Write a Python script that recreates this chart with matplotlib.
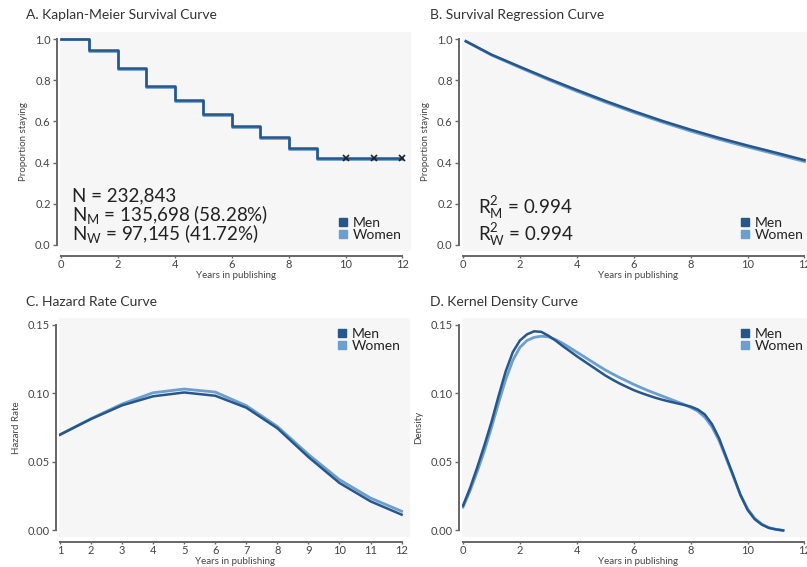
import numpy as np
import matplotlib
matplotlib.use("Agg")
import matplotlib.pyplot as plt
from matplotlib.lines import Line2D

plt.rcParams['font.family'] = ['Lato', 'DejaVu Sans']
plt.rcParams['mathtext.fontset'] = 'custom'
plt.rcParams['mathtext.rm'] = 'Lato'
plt.rcParams['mathtext.it'] = 'Lato'
plt.rcParams['mathtext.default'] = 'regular'

# A. Kaplan-Meier (step values at start of each year)
km_years = [0, 1, 2, 3, 4, 5, 6, 7, 8, 9, 10, 11, 12]
km_men = [1.0, 0.947, 0.860, 0.773, 0.704, 0.636, 0.579, 0.526, 0.472, 0.422, 0.422, 0.422, 0.422]
km_women = [1.0, 0.944, 0.855, 0.769, 0.699, 0.631, 0.572, 0.518, 0.464, 0.416, 0.416, 0.416, 0.416]
censor_years = [10, 11, 12]
censor_vals = [0.42, 0.42, 0.42]

# B. survival regression
reg_years = [0.1, 1, 2, 3, 4, 5, 6, 7, 8, 9, 10, 11, 12]
reg_men = [0.99, 0.925, 0.866, 0.808, 0.753, 0.700, 0.650, 0.603, 0.560, 0.520, 0.483, 0.448, 0.412]
reg_women = [0.99, 0.923, 0.862, 0.803, 0.747, 0.694, 0.644, 0.597, 0.553, 0.513, 0.476, 0.441, 0.405]

# C. hazard rate
hz_years = [1, 2, 3, 4, 5, 6, 7, 8, 9, 10, 11, 12]
hz_men = [0.0698, 0.0812, 0.0912, 0.0978, 0.1006, 0.0982, 0.0895, 0.0745, 0.0535, 0.0346, 0.0212, 0.0115]
hz_women = [0.0698, 0.0815, 0.0922, 0.1004, 0.1031, 0.1009, 0.0910, 0.0758, 0.0554, 0.0370, 0.0236, 0.0140]

# D. kernel density (every quarter year)
kd_years = [0, 0.25, 0.5, 0.75, 1, 1.25, 1.5, 1.75, 2, 2.25, 2.5, 2.75, 3, 3.25, 3.5, 3.75, 4, 4.25, 4.5, 4.75,
            5, 5.25, 5.5, 5.75, 6, 6.25, 6.5, 6.75, 7, 7.25, 7.5, 7.75, 8, 8.25, 8.5, 8.75, 9, 9.25, 9.5, 9.75,
            10, 10.25, 10.5, 10.75, 11, 11.25]
kd_men = [0.018, 0.031, 0.046, 0.062, 0.079, 0.098, 0.116, 0.130, 0.1385, 0.1430, 0.1452, 0.1448, 0.1420, 0.1385,
          0.1345, 0.1308, 0.127, 0.1235, 0.120, 0.1165, 0.113, 0.110, 0.1072, 0.1047, 0.1023, 0.1003, 0.0985, 0.0968,
          0.0953, 0.0940, 0.0928, 0.0916, 0.0903, 0.0882, 0.0845, 0.0775, 0.0672, 0.0535, 0.0400, 0.0258,
          0.0150, 0.0082, 0.0042, 0.0018, 0.0007, 0.0]
kd_women = [0.017, 0.029, 0.043, 0.058, 0.075, 0.093, 0.110, 0.124, 0.1335, 0.1385, 0.1408, 0.1416, 0.1412, 0.1392,
            0.1365, 0.1333, 0.130, 0.1268, 0.1235, 0.1202, 0.117, 0.1142, 0.1115, 0.1090, 0.1065, 0.1042, 0.1020, 0.1000,
            0.0980, 0.0960, 0.0940, 0.0920, 0.0897, 0.0870, 0.0825, 0.0755, 0.0655, 0.0525, 0.0392, 0.0260,
            0.0158, 0.0088, 0.0046, 0.0020, 0.0008, 0.0]

men_c = '#27578a'
women_c = '#6b9fcf'
bg = '#f6f6f6'
txt_c = '#444444'

W, H = 807, 567
fig = plt.figure(figsize=(W / 100, H / 100), dpi=100)

def make_ax(left_px, top_px, w_px=351, h_px=219):
    ax = fig.add_axes([left_px / W, 1 - (top_px + h_px) / H, w_px / W, h_px / H])
    ax.set_facecolor(bg)
    for s in ['top', 'right']:
        ax.spines[s].set_visible(False)
    ax.spines['left'].set_position(('outward', 2.2))
    ax.spines['bottom'].set_position(('outward', 3.6))
    for s in ['left', 'bottom']:
        ax.spines[s].set_color('#666666')
        ax.spines[s].set_linewidth(1.4)
    ax.tick_params(colors='#666666', labelcolor=txt_c, labelsize=8, width=1)
    ax.tick_params(axis='y', length=3, pad=1.5)
    ax.tick_params(axis='x', length=1.5, pad=0.5)
    return ax

def labels(ax, ylab):
    ax.set_xlabel('Years in publishing', fontsize=7, color=txt_c, labelpad=1.2)
    ax.set_ylabel(ylab, fontsize=7, color=txt_c, labelpad=5)

def legend(ax, loc):
    h = [Line2D([], [], marker='s', ls='none', color=men_c, markersize=6),
         Line2D([], [], marker='s', ls='none', color=women_c, markersize=6)]
    ax.legend(h, ['Men', 'Women'], loc=loc, frameon=False, fontsize=10, handletextpad=0.2,
              labelspacing=0.0, handlelength=1.0, borderaxespad=0.3, labelcolor='#222222')

# A
ax = make_ax(60, 32)
ax.step(km_years, km_women, where='post', color=women_c, lw=2)
ax.step(km_years, km_men, where='post', color=men_c, lw=1.8)
ax.plot(censor_years, censor_vals, 'x', color='#222222', ms=4, mew=1.2)
ax.set_xlim(-0.035, 12.3)
ax.set_ylim(-0.03, 1.035)
ax.set_xticks(range(0, 13, 2))
ax.set_yticks([0, 0.2, 0.4, 0.6, 0.8, 1.0])
ax.set_yticklabels(['0.0', '0.2', '0.4', '0.6', '0.8', '1.0'])
ax.spines['left'].set_bounds(0, 1)
ax.spines['bottom'].set_bounds(0, 12)
labels(ax, 'Proportion staying')
ax.text(0.033, 0.25, 'N = 232,843', transform=ax.transAxes, fontsize=13.5, va='center', color='#222222')
ax.text(0.033, 0.165, 'N$_M$ = 135,698 (58.28%)', transform=ax.transAxes, fontsize=13.5, va='center', color='#222222')
ax.text(0.033, 0.08, 'N$_W$ = 97,145 (41.72%)', transform=ax.transAxes, fontsize=13.5, va='center', color='#222222')
legend(ax, 'lower right')

# B
ax = make_ax(462, 32)
ax.plot(reg_years, reg_women, color=women_c, lw=2)
ax.plot(reg_years, reg_men, color=men_c, lw=1.8)
ax.set_xlim(-0.035, 12.3)
ax.set_ylim(-0.03, 1.035)
ax.set_xticks(range(0, 13, 2))
ax.set_yticks([0, 0.2, 0.4, 0.6, 0.8, 1.0])
ax.set_yticklabels(['0.0', '0.2', '0.4', '0.6', '0.8', '1.0'])
ax.spines['left'].set_bounds(0, 1)
ax.spines['bottom'].set_bounds(0, 12)
labels(ax, 'Proportion staying')
ax.text(0.046, 0.195, 'R$^2_M$ = 0.994', transform=ax.transAxes, fontsize=13.5, va='center', color='#222222')
ax.text(0.046, 0.072, 'R$^2_W$ = 0.994', transform=ax.transAxes, fontsize=13.5, va='center', color='#222222')
legend(ax, 'lower right')

# C
ax = make_ax(59.3, 318)
ax.plot(hz_years, hz_women, color=women_c, lw=2)
ax.plot(hz_years, hz_men, color=men_c, lw=1.8)
ax.set_xlim(0.98, 12.28)
ax.set_ylim(-0.0048, 0.1549)
ax.set_xticks(range(1, 13))
ax.set_yticks([0, 0.05, 0.10, 0.15])
ax.set_yticklabels(['0.00', '0.05', '0.10', '0.15'])
ax.spines['left'].set_bounds(0, 0.15)
ax.spines['bottom'].set_bounds(1, 12)
labels(ax, 'Hazard Rate')
legend(ax, 'upper right')

# D
ax = make_ax(462, 318)
ax.plot(kd_years, kd_women, color=women_c, lw=2)
ax.plot(kd_years, kd_men, color=men_c, lw=1.8)
ax.set_xlim(-0.035, 12.3)
ax.set_ylim(-0.0048, 0.1549)
ax.set_xticks(range(0, 13, 2))
ax.set_yticks([0, 0.05, 0.10, 0.15])
ax.set_yticklabels(['0.00', '0.05', '0.10', '0.15'])
ax.spines['left'].set_bounds(0, 0.15)
ax.spines['bottom'].set_bounds(0, 12)
labels(ax, 'Density')
legend(ax, 'upper right')

fig.text(26 / W, 1 - 15 / H, 'A. Kaplan-Meier Survival Curve', fontsize=10, va='center', color='#333333')
fig.text(430 / W, 1 - 15 / H, 'B. Survival Regression Curve', fontsize=10, va='center', color='#333333')
fig.text(26 / W, 1 - 302 / H, 'C. Hazard Rate Curve', fontsize=10, va='center', color='#333333')
fig.text(430 / W, 1 - 302 / H, 'D. Kernel Density Curve', fontsize=10, va='center', color='#333333')

fig.savefig('out.png', dpi=100)
